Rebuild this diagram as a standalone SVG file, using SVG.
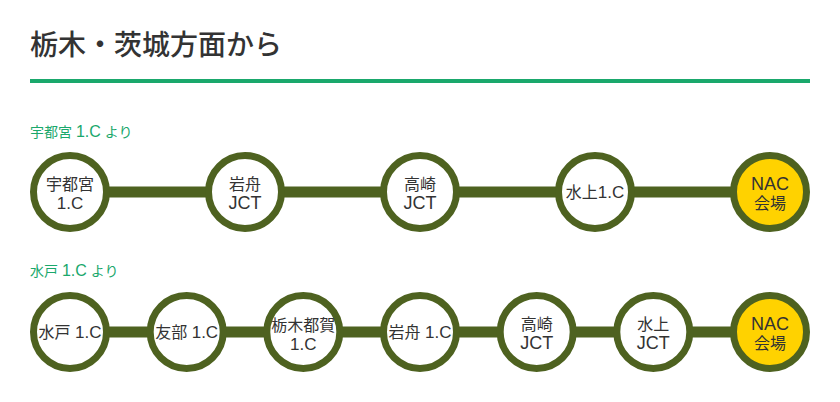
<svg xmlns="http://www.w3.org/2000/svg" width="840" height="402" viewBox="0 0 840 402">
<style>
.title{font-family:"Liberation Sans","Noto Sans CJK JP",sans-serif;font-size:28px;fill:#333;font-weight:500}
.sec{font-family:"Liberation Sans","Noto Sans CJK JP",sans-serif;font-size:14px;fill:#1aa86c}
.sec .l{font-size:16px}
.ring{fill:#fff;stroke:#4e6220;stroke-width:7}
.goal{fill:#ffd200;stroke:#4e6220;stroke-width:7}
.lbl{font-family:"Liberation Sans","Noto Sans CJK JP",sans-serif;font-size:16px;fill:#333;text-anchor:middle}
.lat{font-size:17px}
.big{font-size:18px}
.bar{fill:#4e6220}
</style>
<rect width="840" height="402" fill="#fff"/>
<text class="title" x="30" y="55">栃木・茨城方面から</text>
<rect x="30" y="79" width="780" height="4" fill="#1aa86c"/>
<text class="sec" x="30" y="137">宇都宮 <tspan class="l">1.C</tspan> より</text>
<text class="sec" x="30" y="276">水戸 <tspan class="l">1.C</tspan> より</text>
<g id="connectors">
<rect class="bar" x="70" y="186.5" width="700" height="11"/>
<rect class="bar" x="70" y="326.5" width="700" height="11"/>
</g>
<g id="r1n1"><circle class="ring" cx="70" cy="192" r="36.5"/><text class="lbl" x="70" y="190">宇都宮</text><text class="lbl lat" x="70" y="209">1.C</text></g>
<g id="r1n2"><circle class="ring" cx="245" cy="192" r="36.5"/><text class="lbl" x="245" y="190">岩舟</text><text class="lbl big" x="245" y="209">JCT</text></g>
<g id="r1n3"><circle class="ring" cx="420" cy="192" r="36.5"/><text class="lbl" x="420" y="190">高崎</text><text class="lbl big" x="420" y="209">JCT</text></g>
<g id="r1n4"><circle class="ring" cx="595" cy="192" r="36.5"/><text class="lbl" x="595" y="198">水上<tspan class="lat">1.C</tspan></text></g>
<g id="r1n5"><circle class="goal" cx="770" cy="192" r="36.5"/><text class="lbl big" x="770" y="190">NAC</text><text class="lbl" x="770" y="209">会場</text></g>
<g id="r2n1"><circle class="ring" cx="70" cy="332" r="36.5"/><text class="lbl" x="70" y="338">水戸 <tspan class="lat">1.C</tspan></text></g>
<g id="r2n2"><circle class="ring" cx="186.7" cy="332" r="36.5"/><text class="lbl" x="186.7" y="338">友部 <tspan class="lat">1.C</tspan></text></g>
<g id="r2n3"><circle class="ring" cx="303.3" cy="332" r="36.5"/><text class="lbl" x="303.3" y="331">栃木都賀</text><text class="lbl lat" x="303.3" y="350">1.C</text></g>
<g id="r2n4"><circle class="ring" cx="420" cy="332" r="36.5"/><text class="lbl" x="420" y="338">岩舟 <tspan class="lat">1.C</tspan></text></g>
<g id="r2n5"><circle class="ring" cx="536.7" cy="332" r="36.5"/><text class="lbl" x="536.7" y="330">高崎</text><text class="lbl big" x="536.7" y="349">JCT</text></g>
<g id="r2n6"><circle class="ring" cx="653.3" cy="332" r="36.5"/><text class="lbl" x="653.3" y="330">水上</text><text class="lbl big" x="653.3" y="349">JCT</text></g>
<g id="r2n7"><circle class="goal" cx="770" cy="332" r="36.5"/><text class="lbl big" x="770" y="330">NAC</text><text class="lbl" x="770" y="349">会場</text></g>
</svg>
